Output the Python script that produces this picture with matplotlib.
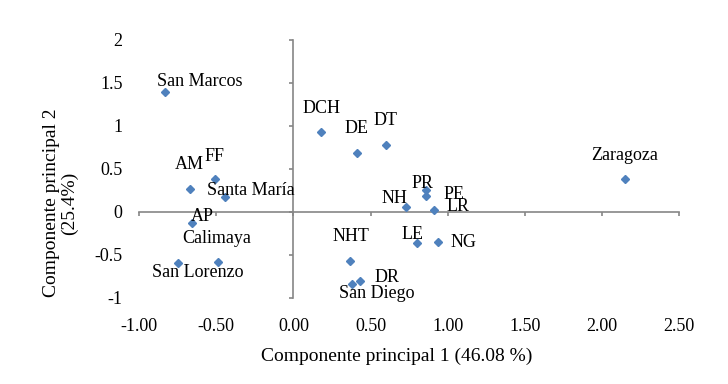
import matplotlib.pyplot as plt

plt.rcParams['font.family'] = ['Liberation Serif', 'DejaVu Serif']

# sample names and their scores on the first two principal components
names = ['San Marcos', 'DCH', 'DE', 'DT', 'AM', 'FF', 'Santa María', 'NH',
         'PR', 'PE', 'LR', 'NG', 'LE', 'NHT', 'DR', 'San Diego', 'AP',
         'Calimaya', 'San Lorenzo', 'Zaragoza']
pc1 = [-0.83, 0.18, 0.41, 0.60, -0.67, -0.51, -0.44, 0.73,
       0.86, 0.86, 0.91, 0.94, 0.80, 0.37, 0.43, 0.38, -0.66,
       -0.49, -0.75, 2.15]
pc2 = [1.40, 0.93, 0.69, 0.78, 0.27, 0.38, 0.17, 0.06,
       0.25, 0.18, 0.02, -0.35, -0.36, -0.57, -0.80, -0.84, -0.13,
       -0.58, -0.59, 0.38]

x_ticks = [-1.0, -0.5, 0.0, 0.5, 1.0, 1.5, 2.0, 2.5]
y_ticks = [-1.0, -0.5, 0.0, 0.5, 1.0, 1.5, 2.0]

# label offsets from the point, in pixels (dx right, dy up)
label_offsets = {
    'San Marcos': (34, 10), 'DCH': (0, 23), 'DE': (0, 24), 'DT': (0, 24),
    'AM': (-1, 24), 'FF': (0, 23), 'Santa María': (25, 7), 'NH': (-12, 8),
    'PR': (-4, 7), 'PE': (28, 2), 'LR': (24, 4), 'NG': (25, 0),
    'LE': (-4, 8), 'NHT': (0, 24), 'DR': (27, 3), 'San Diego': (25, -9),
    'AP': (11, 7), 'Calimaya': (-1, 23), 'San Lorenzo': (20, -10),
    'Zaragoza': (-1, 24),
}

blue = '#4F81BD'
grey = '#868686'

fig = plt.figure(figsize=(7.28, 3.84), dpi=100)
ax = fig.add_axes([0.191, 0.224, 0.742, 0.672])

ax.plot(pc1, pc2, linestyle='none', marker='D', markersize=4,
        color=blue, zorder=3)

for name, x, y in zip(names, pc1, pc2):
    dx, dy = label_offsets[name]
    ax.annotate(name, (x, y), xytext=(dx, dy), textcoords='offset pixels',
                ha='center', va='center', fontsize=13)

ax.set_xlim(-1, 2.5)
ax.set_ylim(-1, 2)
ax.set_xticks(x_ticks)
ax.set_yticks(y_ticks)
ax.set_xticklabels([f'{t:.2f}' for t in x_ticks])
ax.set_yticklabels([f'{t:g}' for t in y_ticks])

# axes cross at zero, tick labels stay at the low edge (Excel style)
for side in ['top', 'right']:
    ax.spines[side].set_visible(False)
for side in ['left', 'bottom']:
    ax.spines[side].set_position(('data', 0))
    ax.spines[side].set_color(grey)
    ax.spines[side].set_linewidth(1.2)

ax.tick_params(axis='both', direction='out', length=3, width=1.2,
               color=grey, labelsize=13)
ax.tick_params(axis='y', pad=120)
ax.tick_params(axis='x', pad=73)

fig.text(396.5 / 728, 1 - 356 / 384, 'Componente principal 1 (46.08 %)',
         ha='center', va='center', fontsize=14)
fig.text(60.5 / 728, 1 - 203 / 384, 'Componente principal 2\n(25.4%)',
         ha='center', va='center', rotation=90, multialignment='center',
         fontsize=14, linespacing=1.1)

fig.savefig('out.png', dpi=100)
